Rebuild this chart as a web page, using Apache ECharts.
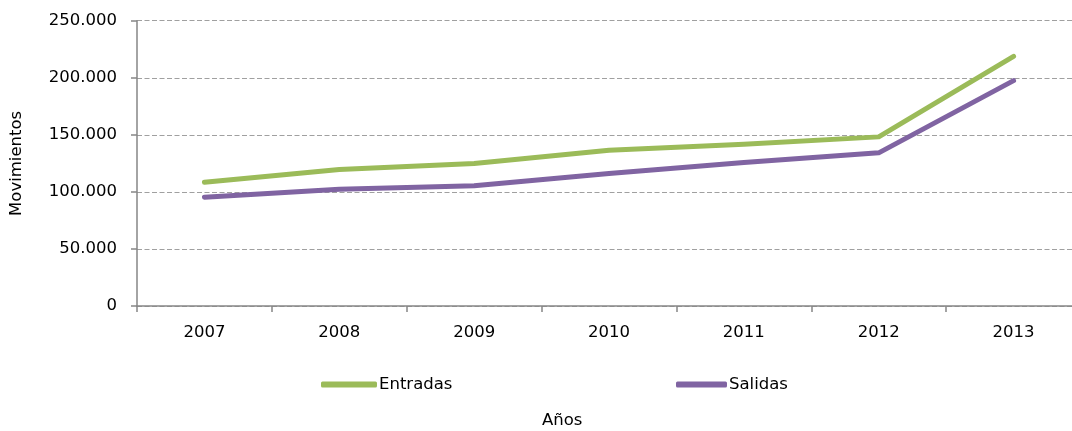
<!DOCTYPE html>
<html>
<head>
<meta charset="utf-8">
<script src="https://cdn.jsdelivr.net/npm/echarts@6/dist/echarts.min.js"></script>
<style>html,body{margin:0;padding:0;background:#fff}#c{width:1072px;height:431px}</style>
</head>
<body>
<div id="c"></div>
<script>
var years = ['2007','2008','2009','2010','2011','2012','2013'];
var entradas = [108500, 119600, 124900, 136500, 141800, 148200, 218800];
var salidas = [95400, 102400, 105300, 116100, 125700, 134200, 197500];
var yTicks = [0, 50000, 100000, 150000, 200000, 250000];

var FONT = 'DejaVu Sans';
var FS = 16.5;
function fmt(v){ return String(v).replace(/\B(?=(\d{3})+(?!\d))/g, '.'); }

var chart = echarts.init(document.getElementById('c'), null, {renderer:'canvas'});
chart.setOption({
  animation: false,
  textStyle: {fontFamily: FONT},
  grid: {left: 137, top: 20.7, width: 944, bottom: 125, containLabel: false, outerBoundsMode: 'none'},
  legend: [
    {data: ['Entradas'], left: 316, top: 371, itemWidth: 56, itemHeight: 6, itemGap: 0,
     icon: 'roundRect', textStyle: {fontFamily: FONT, fontSize: FS, color: '#000', padding: [0,0,0,-3]}},
    {data: ['Salidas'], left: 671, top: 371, itemWidth: 51, itemHeight: 6, itemGap: 0,
     icon: 'roundRect', textStyle: {fontFamily: FONT, fontSize: FS, color: '#000', padding: [0,0,0,-3]}}
  ],
  graphic: [{
    type: 'text', left: 542, top: 412,
    style: {text: 'Años', font: FS + 'px "' + FONT + '"', fill: '#000'}
  }],
  xAxis: {
    type: 'category', data: years, boundaryGap: true,
    axisLine: {lineStyle: {color: '#868686', width: 1.5}},
    axisTick: {show: true, length: 6, lineStyle: {color: '#868686', width: 1.5}},
    axisLabel: {color: '#000', fontSize: FS, margin: 18, fontFamily: FONT},
    splitLine: {show: false}
  },
  yAxis: {
    type: 'value', min: 0, max: 250000, interval: 50000,
    name: 'Movimientos', nameLocation: 'middle', nameGap: 112, nameRotate: 90,
    nameTextStyle: {color: '#000', fontSize: FS, fontFamily: FONT},
    axisLine: {show: true, lineStyle: {color: '#868686', width: 1.5}},
    axisTick: {show: true, length: 6, lineStyle: {color: '#868686', width: 1.5}},
    axisLabel: {color: '#000', fontSize: FS, margin: 20, fontFamily: FONT,
      formatter: function(v){ return yTicks.indexOf(v) >= 0 ? fmt(v) : ''; }},
    splitLine: {show: true, lineStyle: {color: '#A0A0A0', width: 1.2, type: [5, 2.5]}}
  },
  series: [
    {name: 'Entradas', type: 'line', data: entradas, symbol: 'none',
     lineStyle: {color: '#9BBB59', width: 5, cap: 'round', join: 'round'}, itemStyle: {color: '#9BBB59'}},
    {name: 'Salidas', type: 'line', data: salidas, symbol: 'none',
     lineStyle: {color: '#8064A2', width: 5, cap: 'round', join: 'round'}, itemStyle: {color: '#8064A2'}}
  ]
});
</script>
</body>
</html>
